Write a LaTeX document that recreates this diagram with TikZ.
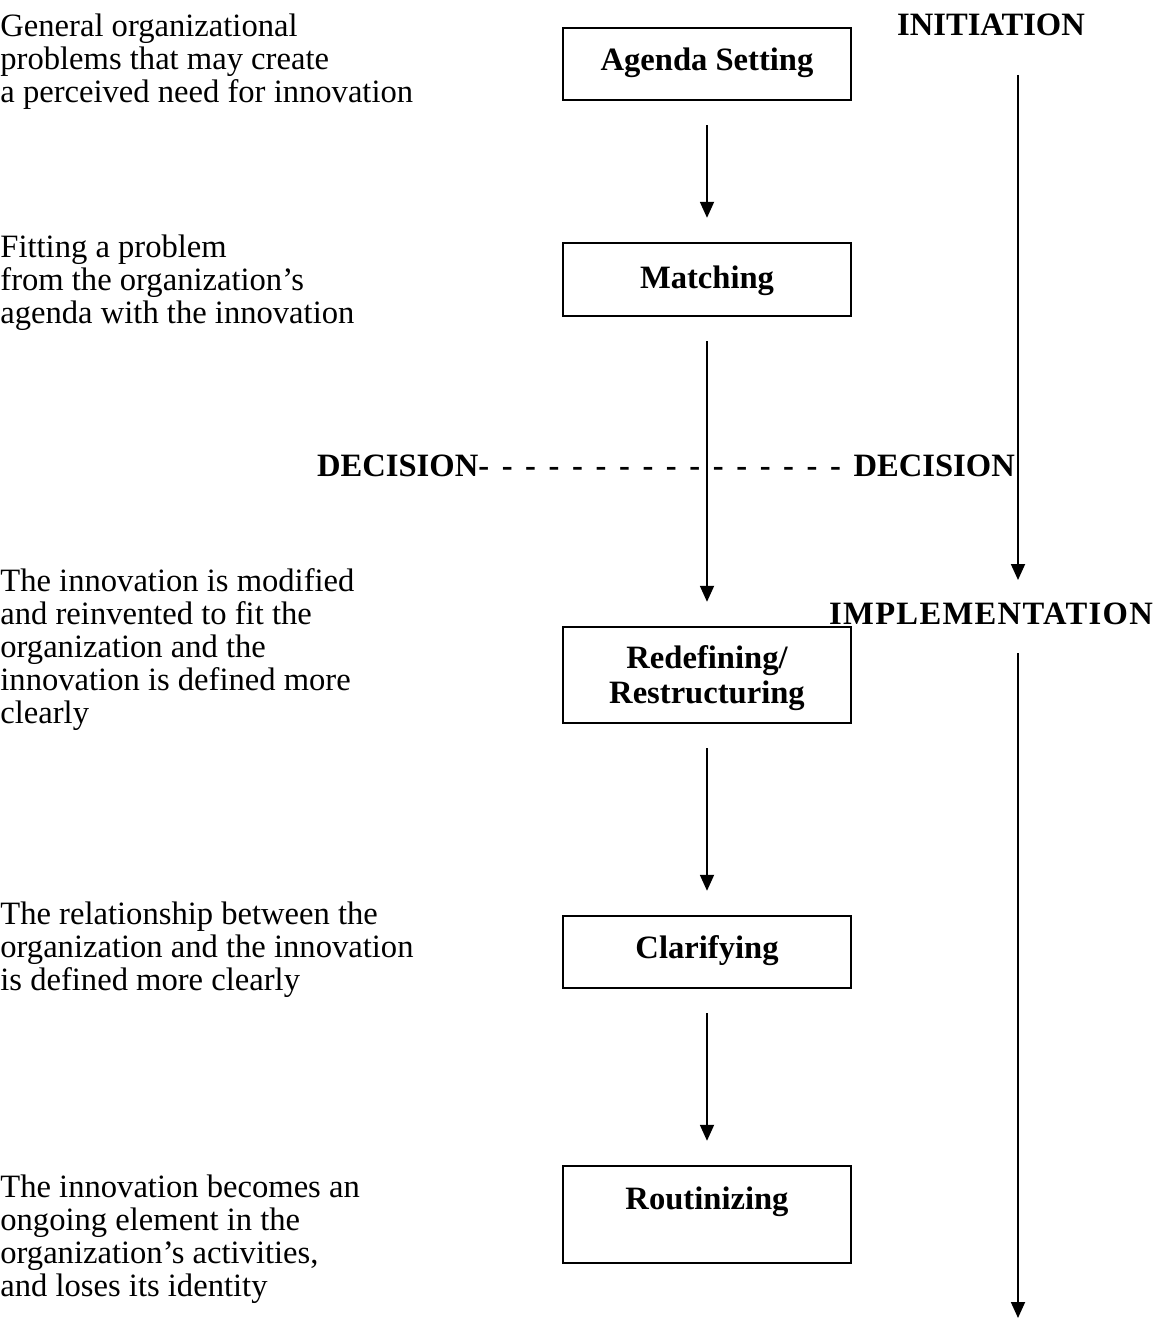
\documentclass[tikz,border=0pt]{standalone}
\usepackage{fontspec}
\setmainfont{Liberation Serif}
\usetikzlibrary{arrows.meta}
\begin{document}
\begin{tikzpicture}[x=0.5pt,y=-0.5pt,
  desc/.style={anchor=north west,inner sep=0pt,align=left,font=\fontsize{16.3}{16.5}\selectfont},
  stagebox/.style={draw,line width=1.2pt,minimum width=144pt,inner sep=0pt},
  stagetext/.style={anchor=base,inner sep=0pt,align=center,font=\fontsize{16.3}{17.5}\selectfont\bfseries},
  phase/.style={anchor=base,inner sep=0pt,font=\fontsize{16.3}{17}\selectfont\bfseries},
  flow/.style={line width=0.9pt,-{Triangle[width=7pt,length=8pt]},shorten <=12pt,shorten >=12pt},
  side/.style={line width=0.9pt,-{Triangle[width=7pt,length=8pt]}}]
\useasboundingbox (0,0) rectangle (1161,1321);

% left descriptions
\node[desc] (d1) at (0,13) {General organizational\\problems that may create\\a perceived need for innovation};
\node[desc] (d2) at (0,234) {Fitting a problem\\from the organization’s\\agenda with the innovation};
\node[desc] (d3) at (0,568) {The innovation is modified\\and reinvented to fit the\\organization and the\\innovation is defined more\\clearly};
\node[desc] (d4) at (0,901) {The relationship between the\\organization and the innovation\\is defined more clearly};
\node[desc] (d5) at (0,1174) {The innovation becomes an\\ongoing element in the\\organization’s activities,\\and loses its identity};

% boxes
\node[stagebox,minimum height=36pt] (agenda) at (707,64) {};
\node[stagebox,minimum height=36.5pt] (matching) at (707,279.5) {};
\node[stagebox,minimum height=48pt] (redef) at (707,675) {};
\node[stagebox,minimum height=36pt] (clar) at (707,952) {};
\node[stagebox,minimum height=48.5pt] (routine) at (707,1214.5) {};

\node[stagetext] (tagenda) at (707,71) {Agenda Setting};
\node[stagetext] (tmatching) at (707,288) {Matching};
\node[stagetext] (tredef) at (707,703) {Redefining/\\Restructuring};
\node[stagetext] (tclar) at (707,958) {Clarifying};
\node[stagetext] (troutine) at (707,1209) {Routinizing};

% flow arrows
\draw[flow] (agenda) -- (matching);
\draw[flow] (matching) -- (redef);
\draw[flow] (redef) -- (clar);
\draw[flow] (clar) -- (routine);

% phases
\node[phase] (init) at (991,36) {INITIATION};
\node[phase] (impl) at (991,624) {\addfontfeature{LetterSpace=4}IMPLEMENTATION};
\node[phase] (decision) at (666,476) {\spaceskip=6.3pt\relax DECISION- - - - - - - - - - - - - - - - DECISION};

\coordinate (a1) at (1018,75);
\coordinate (a2) at (1018,580);
\coordinate (a3) at (1018,653);
\coordinate (a4) at (1018,1318);
\draw[side] (a1) -- (a2);
\draw[side] (a3) -- (a4);
\end{tikzpicture}
\end{document}
